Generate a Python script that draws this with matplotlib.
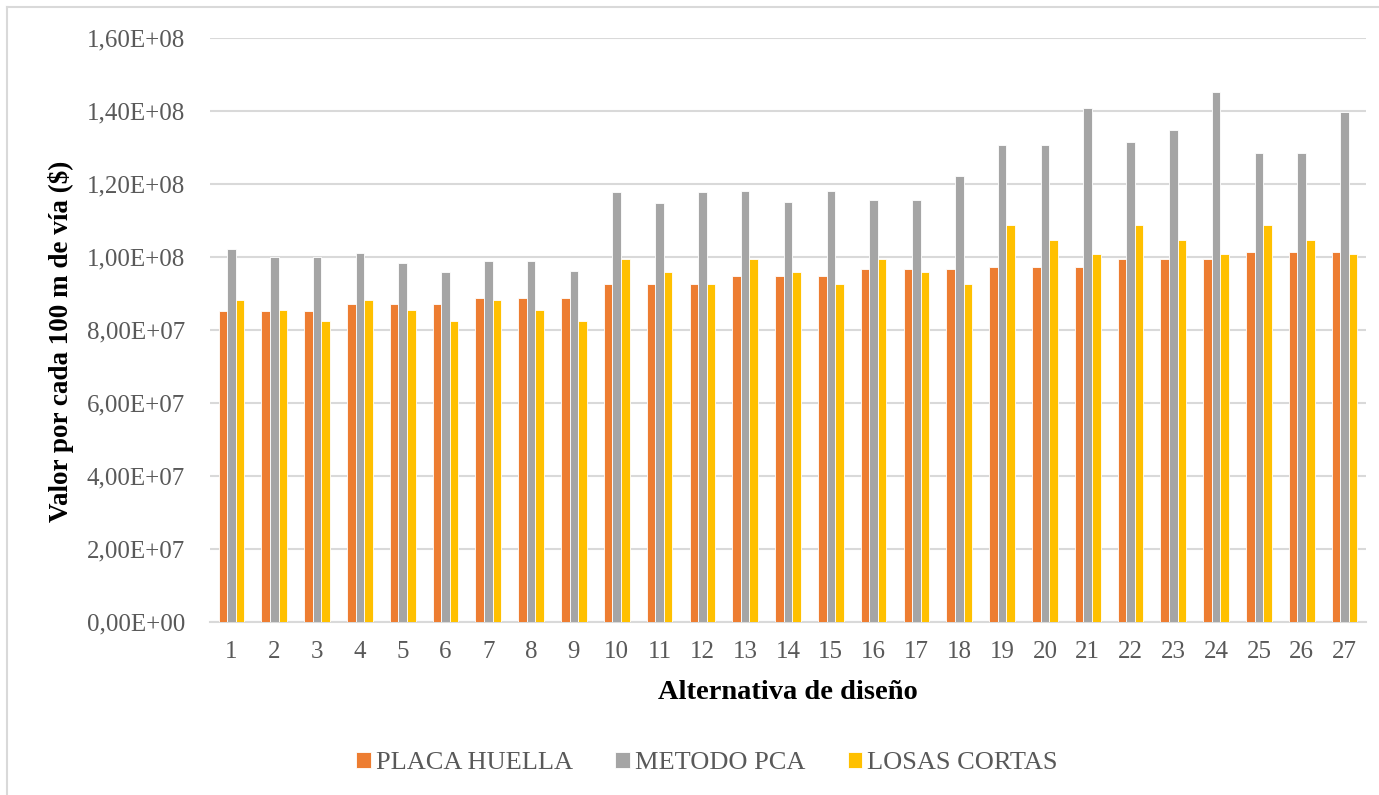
import numpy as np
import matplotlib.pyplot as plt
from matplotlib.lines import Line2D
from matplotlib.ticker import FuncFormatter, MultipleLocator

alternativas = [str(i) for i in range(1, 28)]
placa_huella = [85.2e6, 85.2e6, 85.2e6, 87.0e6, 87.0e6, 87.0e6, 88.9e6, 88.9e6, 88.9e6,
                92.5e6, 92.5e6, 92.5e6, 94.7e6, 94.7e6, 94.7e6, 96.6e6, 96.6e6, 96.6e6,
                97.3e6, 97.3e6, 97.3e6, 99.5e6, 99.5e6, 99.5e6, 101.3e6, 101.3e6, 101.3e6]
metodo_pca = [102.1e6, 100.0e6, 100.0e6, 101.0e6, 98.4e6, 95.8e6, 98.8e6, 98.8e6, 96.2e6,
              117.8e6, 114.9e6, 117.8e6, 118.2e6, 115.2e6, 118.2e6, 115.6e6, 115.6e6, 122.2e6,
              130.6e6, 130.6e6, 140.9e6, 131.4e6, 134.7e6, 145.3e6, 128.4e6, 128.4e6, 139.8e6]
losas_cortas = [88.1e6, 85.6e6, 82.6e6, 88.1e6, 85.6e6, 82.6e6, 88.1e6, 85.6e6, 82.6e6,
                99.5e6, 95.8e6, 92.5e6, 99.5e6, 95.8e6, 92.5e6, 99.5e6, 95.8e6, 92.5e6,
                108.7e6, 104.6e6, 100.9e6, 108.7e6, 104.6e6, 100.9e6, 108.7e6, 104.6e6, 100.9e6]

series = [("PLACA HUELLA", placa_huella, "#ED7D31"),
          ("METODO PCA", metodo_pca, "#A5A5A5"),
          ("LOSAS CORTAS", losas_cortas, "#FFC000")]

plt.rcParams['font.family'] = ['Liberation Serif', 'DejaVu Serif']

fig = plt.figure(figsize=(13.79, 7.95), dpi=100)
ax = fig.add_axes([210/1379, 1 - 622/795, 1156/1379, 584/795])

x = np.arange(len(alternativas))
w = 0.2
for i, (name, vals, color) in enumerate(series):
    ax.bar(x + (i - 1)*w, vals, width=w, color=color, edgecolor='white',
           linewidth=0.6, label=name, zorder=3)

ax.set_xlim(-0.5, len(alternativas) - 0.5)
ax.set_ylim(0, 1.6e8)
ax.yaxis.set_major_locator(MultipleLocator(2e7))
ax.yaxis.set_major_formatter(FuncFormatter(lambda v, p: f"{v:.2E}".replace('.', ',')))
ax.set_xticks(x)
ax.set_xticklabels(alternativas)
ax.grid(axis='y', color='#D9D9D9', linewidth=1.5, zorder=0)
for s in ['top', 'right', 'left']:
    ax.spines[s].set_visible(False)
ax.spines['bottom'].set_color('#D9D9D9')
ax.spines['bottom'].set_linewidth(1.5)
ax.tick_params(axis='both', length=0, labelsize=18, colors='#595959')
ax.tick_params(axis='y', pad=18)
ax.tick_params(axis='x', pad=14)

ax.set_xlabel("Alternativa de diseño", fontsize=20.5, fontweight='bold', labelpad=12)
ax.set_ylabel("Valor por cada 100 m de vía ($)", fontsize=19.5, fontweight='bold')
ax.yaxis.set_label_coords(-0.118, 0.48)

fig.legend(loc='center', bbox_to_anchor=(707/1379, 1 - 763/795), ncol=3, frameon=False,
           fontsize=19, handlelength=0.55, handleheight=0.55, handletextpad=0.2,
           columnspacing=1.6, labelcolor='#595959')

# thin frame on the top and left edges of the chart area
frame = dict(transform=fig.transFigure, color='#D9D9D9', linewidth=1.5)
fig.add_artist(Line2D([7/1379, 1], [1 - 7/795, 1 - 7/795], **frame))
fig.add_artist(Line2D([7/1379, 7/1379], [0, 1 - 7/795], **frame))

fig.savefig('out.png', dpi=100)
